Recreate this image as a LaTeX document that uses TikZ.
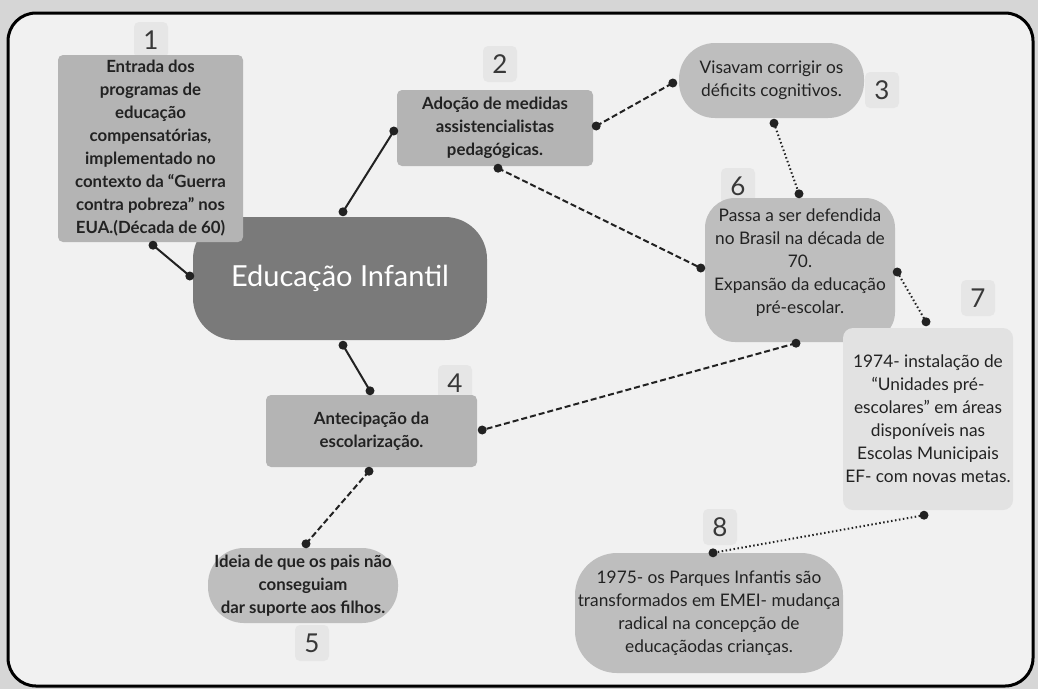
\documentclass[tikz,border=0pt]{standalone}
\usepackage{fontspec}
\setmainfont{Lato}
\usetikzlibrary{calc}
\definecolor{outbg}{HTML}{D6D6D6}
\definecolor{inbg}{HTML}{F1F1F1}
\definecolor{boxA}{HTML}{B4B4B4}
\definecolor{boxB}{HTML}{BEBEBE}
\definecolor{boxC}{HTML}{E2E2E2}
\definecolor{cent}{HTML}{7A7A7A}
\definecolor{lab}{HTML}{E6E6E6}
\definecolor{ink}{HTML}{222222}
\tikzset{
  txt/.style={font=\fontsize{17.3}{23}\selectfont, text=ink, align=center, inner sep=0pt},
  boxbold/.style={txt, font=\fontsize{16.8}{23}\selectfont\bfseries},
  numlab/.style={fill=lab, rounded corners=5, minimum width=34, minimum height=36,
     inner sep=0pt, font=\fontsize{26}{26}\selectfont, text=ink!90},
  solidlink/.style={draw=ink, line width=2},
  dashlink/.style={draw=ink, line width=2, dash pattern=on 6 off 3},
  dotlink/.style={draw=ink, line width=2, dash pattern=on 1.5 off 2.5},
}
\newcommand\linkit[3]{\draw[#1] #2 -- #3; \fill[ink] #2 circle (4.5); \fill[ink] #3 circle (4.5);}
\begin{document}
\begin{tikzpicture}[x=1pt,y=-1pt]
\useasboundingbox (0,0) rectangle (1038,689);
\fill[outbg] (0,0) rectangle (1038,689);
\draw[line width=3, rounded corners=28, fill=inbg] (8,13) rectangle (1033,686);
% number labels
\node[numlab] (l1) at (151,40) {1};
\node[numlab] (l2) at (500,64) {2};
\node[numlab] (l3) at (882,90) {3};
\node[numlab] (l4) at (455,383) {4};
\node[numlab] (l5) at (312,643) {5};
\node[numlab] (l6) at (738,186) {6};
\node[numlab] (l7) at (978,298) {7};
\node[numlab] (l8) at (720,527) {8};
% boxes
\node[fill=cent, rounded corners=42, minimum width=294, minimum height=123, inner sep=0pt,
  text=white, font=\fontsize{29}{29}\selectfont] (c) at (340,278.5) {Educação Infantil};
\node[boxbold, fill=boxA, rounded corners=5, minimum width=185, minimum height=187] (n1) at (150.5,148.5)
  {Entrada dos\\programas de\\educação\\compensatórias,\\implementado no\\contexto da “Guerra\\contra pobreza” nos\\EUA.(Década de 60)};
\node[boxbold, fill=boxA, rounded corners=5, minimum width=196, minimum height=76] (n2) at (495,128)
  {Adoção de medidas\\assistencialistas\\pedagógicas.};
\node[txt, fill=boxB, rounded corners=36, minimum width=185, minimum height=75] (n3) at (771.5,80.5)
  {Visavam corrigir os\\déficits cognitivos.};
\node[txt, fill=boxB, rounded corners=30, minimum width=190, minimum height=144, text depth=18pt] (n6) at (800,270)
  {Passa a ser defendida\\no Brasil na década de\\70.\\Expansão da educação\\pré-escolar.};
\node[txt, fill=boxC, rounded corners=10, minimum width=170, minimum height=182] (n7) at (928,419)
  {1974- instalação de\\“Unidades pré-\\escolares” em áreas\\disponíveis nas\\Escolas Municipais\\EF- com novas metas.};
\node[txt, fill=boxB, rounded corners=42, minimum width=268, minimum height=120] (n8) at (709,613)
  {1975- os Parques Infantis são\\transformados em EMEI- mudança\\radical na concepção de\\educaçãodas crianças.};
\node[boxbold, fill=boxA, rounded corners=5, minimum width=211, minimum height=72] (n4) at (371.5,431)
  {Antecipação da\\escolarização.};
\node[boxbold, fill=boxB, rounded corners=36, minimum width=190, minimum height=75] (n5) at (303,585.5)
  {Ideia de que os pais não\\conseguiam\\dar suporte aos filhos.};
% connectors
\linkit{solidlink}{([shift={(2.5,3)}]n1.south)}{([shift={(-3,-2.5)}]c.west)}
\linkit{solidlink}{([shift={(3,-5)}]c.north)}{([shift={(-3,3)}]n2.west)}
\linkit{dashlink}{([shift={(3,-2)}]n2.east)}{([shift={(-6,2.5)}]n3.west)}
\linkit{dashlink}{([shift={(3,2)}]n2.south)}{([shift={(-4,-2)}]n6.west)}
\linkit{dotlink}{([shift={(2.5,5)}]n3.south)}{([shift={(-1,-4)}]n6.north)}
\linkit{dotlink}{([shift={(2,2)}]n6.east)}{([shift={(-2,-6)}]n7.north)}
\linkit{dashlink}{([shift={(-4,1)}]n6.south)}{([shift={(5,-1)}]n4.east)}
\linkit{solidlink}{([shift={(3,5)}]c.south)}{([shift={(-1.5,-4)}]n4.north)}
\linkit{dashlink}{([shift={(-2.5,4)}]n4.south)}{([shift={(3,-4)}]n5.north)}
\linkit{dotlink}{([shift={(-4,5)}]n7.south)}{([shift={(4,0)}]n8.north)}
\end{tikzpicture}
\end{document}
